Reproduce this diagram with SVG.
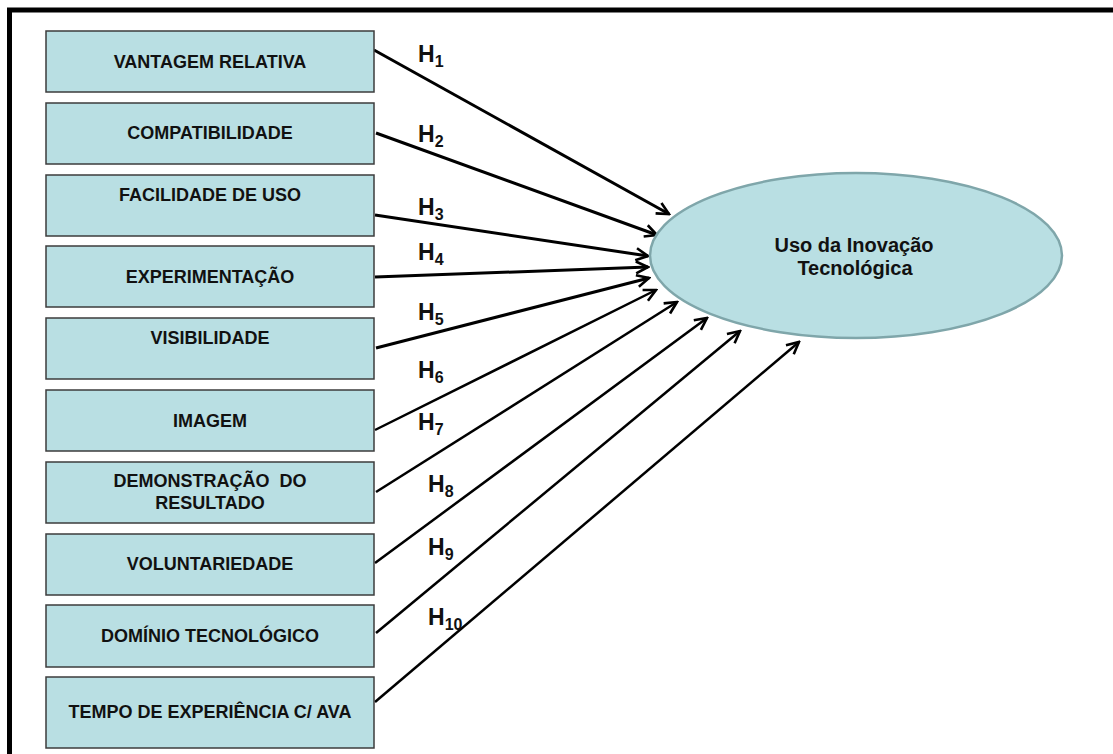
<svg xmlns="http://www.w3.org/2000/svg" width="1113" height="754" viewBox="0 0 1113 754">
<defs>
<style>
.box{fill:#b9dfe3;stroke:#3c3c3c;stroke-width:1.5}
.bt{font-family:"Liberation Sans",Arial,sans-serif;font-weight:bold;font-size:18px;fill:#111;text-anchor:middle}
.et{font-size:20px}
.h{font-family:"Liberation Sans",Arial,sans-serif;font-weight:bold;font-size:23px;fill:#111}
.sub{font-size:16px}
.c{fill:none;stroke:#000;stroke-width:3;marker-end:url(#ah)}
.c2{stroke-width:2.5}
</style>
<marker id="ah" viewBox="0 0 16 16" refX="14" refY="8" markerWidth="16" markerHeight="16" markerUnits="userSpaceOnUse" orient="auto">
<path d="M2,2 L14,8 L2,14" fill="none" stroke="#000" stroke-width="2.6" stroke-linejoin="miter"/>
</marker>
</defs>
<rect width="1113" height="754" fill="#fff"/>
<path d="M9.5,754 V10 H1113" fill="none" stroke="#000" stroke-width="5"/>

<g id="connectors">
<line class="c" x1="374" y1="50" x2="669" y2="214"/>
<line class="c" x1="376" y1="133" x2="657" y2="235"/>
<line class="c" x1="375" y1="215" x2="648" y2="256"/>
<line class="c" x1="375" y1="277" x2="648" y2="267"/>
<line class="c" x1="376" y1="348" x2="649" y2="278"/>
<line class="c c2" x1="375" y1="430" x2="656" y2="290"/>
<line class="c c2" x1="376" y1="492" x2="677" y2="302"/>
<line class="c c2" x1="375" y1="563" x2="707" y2="318"/>
<line class="c c2" x1="376" y1="633" x2="740" y2="331"/>
<line class="c c2" x1="375" y1="702" x2="799" y2="342"/>
</g>

<g id="labels">
<text class="h" x="418" y="62">H<tspan class="sub" dy="5">1</tspan></text>
<text class="h" x="418" y="142">H<tspan class="sub" dy="5">2</tspan></text>
<text class="h" x="418" y="215">H<tspan class="sub" dy="5">3</tspan></text>
<text class="h" x="418" y="260">H<tspan class="sub" dy="5">4</tspan></text>
<text class="h" x="418" y="320">H<tspan class="sub" dy="5">5</tspan></text>
<text class="h" x="418" y="378">H<tspan class="sub" dy="5">6</tspan></text>
<text class="h" x="418" y="430">H<tspan class="sub" dy="5">7</tspan></text>
<text class="h" x="428" y="492">H<tspan class="sub" dy="5">8</tspan></text>
<text class="h" x="428" y="555">H<tspan class="sub" dy="5">9</tspan></text>
<text class="h" x="428" y="625">H<tspan class="sub" dy="5">10</tspan></text>
</g>

<g id="n1"><rect class="box" x="46" y="31" width="328" height="61"/><text class="bt" x="210" y="68">VANTAGEM RELATIVA</text></g>
<g id="n2"><rect class="box" x="46" y="103" width="328" height="61"/><text class="bt" x="210" y="139">COMPATIBILIDADE</text></g>
<g id="n3"><rect class="box" x="46" y="175" width="328" height="61"/><text class="bt" x="210" y="201">FACILIDADE DE USO</text></g>
<g id="n4"><rect class="box" x="46" y="246" width="328" height="61"/><text class="bt" x="210" y="283">EXPERIMENTAÇÃO</text></g>
<g id="n5"><rect class="box" x="46" y="318" width="328" height="61"/><text class="bt" x="210" y="344">VISIBILIDADE</text></g>
<g id="n6"><rect class="box" x="46" y="390" width="328" height="61"/><text class="bt" x="210" y="427">IMAGEM</text></g>
<g id="n7"><rect class="box" x="46" y="462" width="328" height="61"/><text class="bt" x="210" y="487" xml:space="preserve">DEMONSTRAÇÃO  DO</text><text class="bt" x="210" y="509">RESULTADO</text></g>
<g id="n8"><rect class="box" x="46" y="534" width="328" height="61"/><text class="bt" x="210" y="570">VOLUNTARIEDADE</text></g>
<g id="n9"><rect class="box" x="46" y="605" width="328" height="62"/><text class="bt" x="210" y="642">DOMÍNIO TECNOLÓGICO</text></g>
<g id="n10"><rect class="box" x="46" y="677" width="328" height="71"/><text class="bt" x="210" y="718">TEMPO DE EXPERIÊNCIA C/ AVA</text></g>

<g id="target">
<ellipse cx="856" cy="255.5" rx="206" ry="82.5" fill="#b9dfe3" stroke="#7fa6aa" stroke-width="2.5"/>
<text class="bt et" x="854" y="252">Uso da Inovação</text>
<text class="bt et" x="855" y="275">Tecnológica</text>
</g>
</svg>
